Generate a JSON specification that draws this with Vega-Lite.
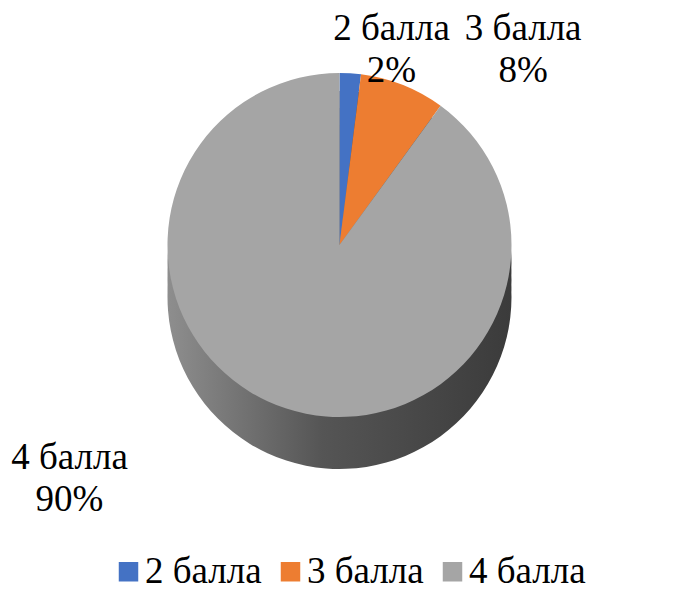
{
  "$schema": "https://vega.github.io/schema/vega-lite/v6.json",
  "width": 679,
  "height": 490,
  "padding": 0,
  "background": "white",
  "data": {
    "values": [
      {"cat": "2 балла", "v": 2, "k": 1, "label": "2 балла\n2%"},
      {"cat": "3 балла", "v": 8, "k": 2, "label": "3 балла\n8%"},
      {"cat": "4 балла", "v": 90, "k": 3, "label": "4 балла\n90%"}
    ]
  },
  "layer": [
    {
      "mark": {"type": "arc", "outerRadius": 172, "yOffset": 52, "color": {"gradient": "linear", "x1": 0, "x2": 1, "y1": 0, "y2": 0, "stops": [{"offset": 0, "color": "#8e8e8e"}, {"offset": 0.45, "color": "#555555"}, {"offset": 1, "color": "#3b3b3b"}]}},
      "encoding": {
        "theta": {"field": "v", "type": "quantitative", "stack": true},
        "order": {"field": "k"}
      }
    },
    {
      "mark": {"type": "arc", "outerRadius": 172, "yOffset": 35, "color": {"gradient": "linear", "x1": 0, "x2": 1, "y1": 0, "y2": 0, "stops": [{"offset": 0, "color": "#8e8e8e"}, {"offset": 0.45, "color": "#555555"}, {"offset": 1, "color": "#3b3b3b"}]}},
      "encoding": {
        "theta": {"field": "v", "type": "quantitative", "stack": true},
        "order": {"field": "k"}
      }
    },
    {
      "mark": {"type": "arc", "outerRadius": 172, "yOffset": 18, "color": {"gradient": "linear", "x1": 0, "x2": 1, "y1": 0, "y2": 0, "stops": [{"offset": 0, "color": "#8e8e8e"}, {"offset": 0.45, "color": "#555555"}, {"offset": 1, "color": "#3b3b3b"}]}},
      "encoding": {
        "theta": {"field": "v", "type": "quantitative", "stack": true},
        "order": {"field": "k"}
      }
    },
    {
      "mark": {"type": "arc", "outerRadius": 172},
      "encoding": {
        "theta": {"field": "v", "type": "quantitative", "stack": true},
        "order": {"field": "k"},
        "color": {
          "field": "cat",
          "type": "nominal",
          "scale": {"domain": ["2 балла", "3 балла", "4 балла"], "range": ["#4472C4", "#ED7D31", "#A5A5A5"]},
          "legend": {
            "orient": "none",
            "legendX": 110,
            "legendY": 553,
            "padding": 0,
            "direction": "horizontal",
            "title": null,
            "symbolType": "square",
            "symbolSize": 380,
            "symbolStrokeWidth": 0,
            "labelFont": "Liberation Serif",
            "labelFontSize": 37,
            "labelColor": "#000000",
            "labelOffset": -2,
            "columnPadding": 10,
            "labelLimit": 300
          }
        }
      }
    },
    {
      "transform": [
        {"stack": "v", "groupby": [], "sort": [{"field": "k", "order": "ascending"}], "as": ["s0", "s1"]},
        {"filter": "datum.cat == '2 балла'"}
      ],
      "mark": {"type": "text", "radius": 200, "dx": 52, "dy": -16, "font": "Liberation Serif", "fontSize": 37, "lineBreak": "\n", "lineHeight": 42, "color": "#000000", "align": "center", "baseline": "middle"},
      "encoding": {
        "theta": {"field": "s0", "type": "quantitative"},
        "text": {"field": "label"}
      }
    },
    {
      "transform": [
        {"stack": "v", "groupby": [], "sort": [{"field": "k", "order": "ascending"}], "as": ["s0", "s1"]},
        {"filter": "datum.cat == '3 балла'"}
      ],
      "mark": {"type": "text", "radius": 205, "dx": 158, "dy": -13, "font": "Liberation Serif", "fontSize": 37, "lineBreak": "\n", "lineHeight": 42, "color": "#000000", "align": "center", "baseline": "middle"},
      "encoding": {
        "theta": {"field": "s0", "type": "quantitative"},
        "text": {"field": "label"}
      }
    },
    {
      "transform": [
        {"stack": "v", "groupby": [], "sort": [{"field": "k", "order": "ascending"}], "as": ["s0", "s1"]},
        {"filter": "datum.cat == '4 балла'"}
      ],
      "mark": {"type": "text", "radius": 0, "dx": -270, "dy": 213, "font": "Liberation Serif", "fontSize": 37, "lineBreak": "\n", "lineHeight": 42, "color": "#000000", "align": "center", "baseline": "middle"},
      "encoding": {
        "theta": {"field": "s0", "type": "quantitative"},
        "text": {"field": "label"}
      }
    }
  ],
  "config": {"view": {"stroke": null}}
}
